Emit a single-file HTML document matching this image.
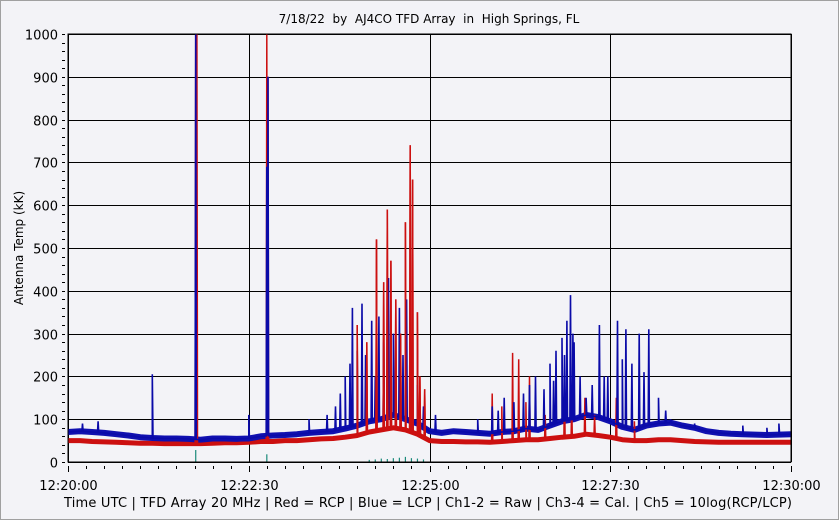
<!DOCTYPE html>
<html><head><meta charset="utf-8"><style>
html,body{margin:0;padding:0;background:#f3f3f7;}
svg{display:block;font-family:"DejaVu Sans","Liberation Sans",sans-serif;}
</style></head><body>
<svg id="c" width="839" height="520">
<rect x="0.5" y="0.5" width="838" height="519" fill="#f3f3f7" stroke="#a0a0a0"/>
<text x="429" y="23" font-size="12" text-anchor="middle" fill="#000" xml:space="preserve">7/18/22  by  AJ4CO TFD Array  in  High Springs, FL</text>
<text transform="translate(23,248) rotate(-90)" font-size="12" text-anchor="middle">Antenna Temp (kK)</text>
<text x="64" y="507" font-size="13" textLength="728" lengthAdjust="spacing">Time UTC | TFD Array 20 MHz | Red = RCP | Blue = LCP | Ch1-2 = Raw | Ch3-4 = Cal. | Ch5 = 10log(RCP/LCP)</text>
<g id="grid"></g>
<g id="series"></g>
<rect x="68" y="34" width="723" height="428" fill="none" stroke="#000"/>
</svg>
<script>
const yTicks=[0,100,200,300,400,500,600,700,800,900,1000];
const xTickLabels=["12:20:00","12:22:30","12:25:00","12:27:30","12:30:00"];
const xTickSecs=[0,150,300,450,600];
const baseTimes=[0,10,20,30,40,50,60,70,80,90,100,110,120,130,140,150,160,170,180,190,200,210,220,230,240,250,260,270,280,290,300,310,320,330,340,350,360,370,380,390,400,410,420,430,440,450,460,470,480,490,500,510,520,530,540,550,560,570,580,590,600];
const blueBase=[70,72,70,68,65,62,58,56,55,55,54,52,55,55,54,55,60,62,63,65,68,70,72,78,85,95,100,110,100,90,72,68,72,70,68,66,70,72,78,75,85,95,100,110,105,95,82,75,85,90,92,85,80,72,68,66,65,64,63,64,65];
const redBase=[50,50,48,47,46,45,44,44,43,43,43,43,44,45,45,46,48,48,50,50,52,54,55,58,62,70,75,80,75,65,50,48,48,47,47,46,48,50,52,52,55,58,60,65,62,58,52,50,50,52,52,50,48,47,46,46,46,46,46,46,46];
const blueSpikeT=[12,25,70,106,150,165,166,200,215,222,226,230,234,236,240,244,247,252,255,258,262,266,270,275,278,281,285,290,295,305,340,352,357,362,370,378,383,388,395,400,403,405,410,412,414,417,419,420,425,430,435,441,445,448,456,460,463,468,474,478,482,490,496,500,520,560,580,590];
const blueSpikeV=[90,95,205,1000,110,690,900,100,110,130,160,200,230,360,260,370,250,330,200,340,280,430,300,360,250,380,220,180,130,110,100,130,120,150,140,160,180,200,170,230,190,260,290,250,330,390,300,280,200,150,180,320,200,200,330,240,310,230,300,210,310,150,120,100,90,85,80,90];
const redSpikeT=[106,107,165,166,240,248,256,262,265,268,272,276,280,284,286,290,292,296,352,360,369,374,380,383,396,412,418,429,437,455,470];
const redSpikeV=[1000,1000,1000,900,320,280,520,420,590,470,380,300,560,740,660,350,200,170,160,130,255,240,140,200,110,180,140,150,110,150,95];
const ratioT=[106,165,250,255,260,265,270,275,280,285,290,295];
const ratioV=[28,18,5,6,8,7,9,10,12,9,8,6];

const X0=68,X1=791,Y0=462,Y1=34;
const xs=t=>X0+(t/600)*(X1-X0);
const ys=v=>Y0-(v/1000)*(Y0-Y1);
const NS="http://www.w3.org/2000/svg";
const grid=document.getElementById('grid'),ser=document.getElementById('series');
function mk(tag,attrs,parent){const e=document.createElementNS(NS,tag);for(const k in attrs)e.setAttribute(k,attrs[k]);parent.appendChild(e);return e;}
yTicks.forEach((v,i)=>{
  const y=Math.round(ys(v))+0.5;
  const l=mk('line',{x1:X0,x2:X1,y1:y,y2:y,stroke:'#000','stroke-width':1},grid);
  
  
  const t=mk('text',{x:58,y:y+5,'font-size':13,'text-anchor':'end'},grid);t.textContent=v;
  
  
  mk('line',{x1:62,x2:65,y1:y,y2:y,stroke:'#000'},grid);
  if(i<yTicks.length-1){for(let k=1;k<5;k++){const yy=Math.round(ys(v+k*20))+0.5;mk('line',{x1:62,x2:65,y1:yy,y2:yy,stroke:'#000'},grid);}}
});
for(let s=0;s<=600;s+=15){const x=Math.round(xs(s))+0.5;mk('line',{x1:x,x2:x,y1:466,y2:s%150==0?472:469,stroke:'#000'},grid);}
xTickSecs.forEach((s,i)=>{
  const x=Math.round(xs(s))+0.5;
  const l=mk('line',{x1:x,x2:x,y1:Y1,y2:Y0,stroke:'#000'},grid);
  
  
  const t=mk('text',{x:x,y:490,'font-size':13,'text-anchor':'middle'},grid);t.textContent=xTickLabels[i];
  
  
});
function interpF(bT,bV){return t=>{for(let i=0;i<bT.length-1;i++){if(t>=bT[i]&&t<=bT[i+1]){return bV[i]+(bV[i+1]-bV[i])*(t-bT[i])/(bT[i+1]-bT[i]);}}return bV[bV.length-1];};}
function pts(bT,bV,sT,sV){
  const arr=bT.map((t,i)=>[t,bV[i]]);
  const interp=interpF(bT,bV);
  sT.forEach((t,i)=>{arr.push([t-0.5,interp(t-0.5)]);arr.push([t,Math.min(sV[i],1000)]);arr.push([t+0.5,interp(t+0.5)]);});
  arr.sort((a,b)=>a[0]-b[0]);
  return arr.map(p=>xs(p[0]).toFixed(1)+','+ys(p[1]).toFixed(1)).join(' ');
}
function band(bT,bV){return bT.map((t,i)=>xs(t).toFixed(1)+','+ys(bV[i]).toFixed(1)).join(' ');}
const rb=mk('polyline',{points:band(baseTimes,redBase),fill:'none',stroke:'#cc1010','stroke-width':5,'stroke-linejoin':'round'},ser);


const bb=mk('polyline',{points:band(baseTimes,blueBase),fill:'none',stroke:'#1010b0','stroke-width':6,'stroke-linejoin':'round'},ser);


const rl=mk('polyline',{points:pts(baseTimes,redBase,redSpikeT,redSpikeV),fill:'none',stroke:'#cc1010','stroke-width':1.5},ser);


const bl=mk('polyline',{points:pts(baseTimes,blueBase,blueSpikeT,blueSpikeV),fill:'none',stroke:'#0a0aa8','stroke-width':1.6},ser);


const rl2=mk('polyline',{points:pts(baseTimes,redBase,redSpikeT.slice(4,18),redSpikeV.slice(4,18)),fill:'none',stroke:'#cc1010','stroke-width':1.5},ser);


ratioT.forEach((t,i)=>{
  const r=mk('line',{x1:xs(t),x2:xs(t),y1:Y0,y2:ys(ratioV[i]),stroke:'#1a8a7a','stroke-width':1.2},ser);
  
  
});
</script>
</body></html>
